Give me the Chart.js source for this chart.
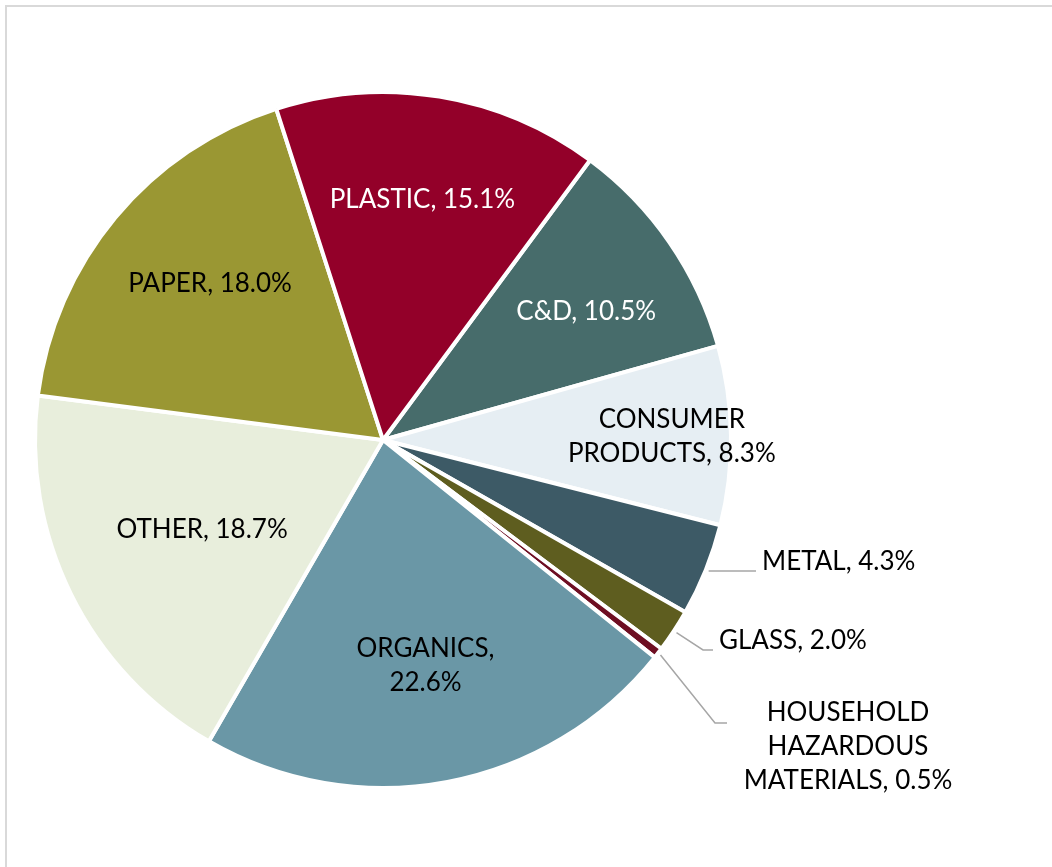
<!DOCTYPE html>
<html>
<head>
<meta charset="utf-8">
<script src="https://cdn.jsdelivr.net/npm/chart.js@4"></script>
<style>
  html, body { margin: 0; padding: 0; background: #fff; }
  #wrap { position: relative; width: 1052px; height: 867px; }
</style>
</head>
<body>
<div id="wrap"><canvas id="pie" width="1052" height="867"></canvas></div>
<script>
// 資料
const categories = ["C&D", "CONSUMER PRODUCTS", "METAL", "GLASS", "HOUSEHOLD HAZARDOUS MATERIALS", "ORGANICS", "OTHER", "PAPER", "PLASTIC"];
const shares = [10.5, 8.3, 4.3, 2.0, 0.5, 22.6, 18.7, 18.0, 15.1];
const labelLines = [
  ["C&D, 10.5%"],
  ["CONSUMER", "PRODUCTS, 8.3%"],
  ["METAL, 4.3%"],
  ["GLASS, 2.0%"],
  ["HOUSEHOLD", "HAZARDOUS", "MATERIALS, 0.5%"],
  ["ORGANICS,", "22.6%"],
  ["OTHER, 18.7%"],
  ["PAPER, 18.0%"],
  ["PLASTIC, 15.1%"]
];

const sliceColors = ["#476C6B", "#E6EEF3", "#3D5A66", "#5E5D1F", "#6E0E22", "#6A97A6", "#E8EEDC", "#9A9733", "#930029"];
const textColors = ["#fff", "#000", "#000", "#000", "#000", "#000", "#000", "#000", "#fff"];
const FONT = "26px Lato";
const LINE_H = 34;

// 標籤位置: inside = 半徑比例 (+角度微調), outside = 引線
const placement = [
  { r: 0.69, da: 2.4 },
  { r: 0.83 },
  { out: true, elbow: null, endX: 756, align: "left" },
  { out: true, elbow: [703, 650], endX: 713, align: "left" },
  { out: true, elbow: [715, 723], endX: 727, align: "center", cx: 848 },
  { r: 0.66 },
  { r: 0.58 },
  { r: 0.67, da: 2.4 },
  { r: 0.70 }
];

const framePlugin = {
  id: "frame",
  beforeDraw(chart) {
    const ctx = chart.ctx;
    ctx.save();
    ctx.strokeStyle = "#D9D9D9";
    ctx.lineWidth = 2;
    ctx.strokeRect(6, 6, 1100, 900);
    ctx.restore();
  }
};

const labelPlugin = {
  id: "sliceLabels",
  afterDatasetsDraw(chart) {
    const ctx = chart.ctx;
    const arcs = chart.getDatasetMeta(0).data;
    ctx.save();
    ctx.font = FONT;
    ctx.textBaseline = "middle";
    arcs.forEach((arc, i) => {
      const p = placement[i];
      const mid = (arc.startAngle + arc.endAngle) / 2;
      const lines = labelLines[i];
      ctx.fillStyle = textColors[i];
      if (!p.out) {
        const a = mid + (p.da || 0) * Math.PI / 180;
        const rr = arc.outerRadius * p.r;
        const x = arc.x + Math.cos(a) * rr;
        const y = arc.y + Math.sin(a) * rr;
        ctx.textAlign = "center";
        const top = y - (lines.length - 1) * LINE_H / 2;
        lines.forEach((t, k) => ctx.fillText(t, x, top + k * LINE_H));
        return;
      }
      // 外部標籤 + 引線
      const sx = arc.x + Math.cos(mid) * (arc.outerRadius + 3);
      const sy = arc.y + Math.sin(mid) * (arc.outerRadius + 3);
      ctx.strokeStyle = "#A6A6A6";
      ctx.lineWidth = 1.5;
      ctx.beginPath();
      ctx.moveTo(sx, sy);
      let ly = sy;
      if (p.elbow) {
        ctx.lineTo(p.elbow[0], p.elbow[1]);
        ly = p.elbow[1];
      }
      ctx.lineTo(p.endX, ly);
      ctx.stroke();
      ctx.fillStyle = "#000";
      if (p.align === "left") {
        ctx.textAlign = "left";
        ctx.fillText(lines[0], p.endX + 6, ly - 9);
      } else {
        ctx.textAlign = "center";
        const top = ly - 10;
        lines.forEach((t, k) => ctx.fillText(t, p.cx, top + k * LINE_H));
      }
    });
    ctx.restore();
  }
};

new Chart(document.getElementById("pie"), {
  type: "pie",
  data: {
    labels: categories,
    datasets: [{
      data: shares,
      backgroundColor: sliceColors,
      borderColor: "#fff",
      borderWidth: 4
    }]
  },
  options: {
    responsive: false,
    animation: false,
    rotation: 36.5,
    radius: 348,
    layout: { padding: { left: 33, right: 319, top: 90, bottom: 77 } },
    plugins: {
      legend: { display: false },
      tooltip: { enabled: false }
    }
  },
  plugins: [framePlugin, labelPlugin]
});
</script>
</body>
</html>
